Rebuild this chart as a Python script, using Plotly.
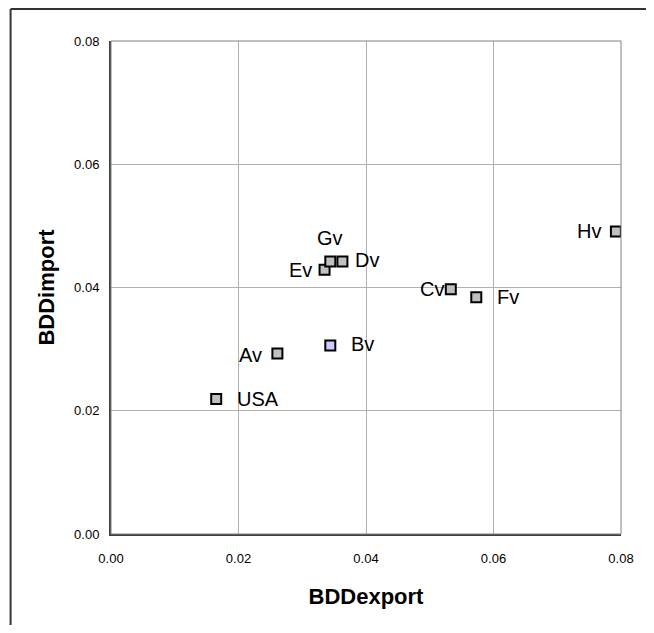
import plotly.graph_objects as go

names = ["USA", "Av", "Bv", "Ev", "Gv", "Dv", "Cv", "Fv", "Hv"]
bdd_export = [0.0165, 0.0261, 0.0344, 0.0335, 0.0344, 0.0363, 0.0533, 0.0573, 0.0792]
bdd_import = [0.0219, 0.0293, 0.0306, 0.0429, 0.0442, 0.0442, 0.0397, 0.0384, 0.0491]
tick_vals = [0.00, 0.02, 0.04, 0.06, 0.08]
tick_text = ["0.00", "0.02", "0.04", "0.06", "0.08"]

# label placement (style): anchor, xshift, yshift
label_pos = {
    "USA": ("left", 19, 0),
    "Av": ("right", -13, -2),
    "Bv": ("left", 19, 1),
    "Ev": ("right", -11, 0),
    "Gv": ("center", 0, 24),
    "Dv": ("left", 11, 2),
    "Cv": ("right", -5, 0),
    "Fv": ("left", 19, 0),
    "Hv": ("right", -13, 0),
}
fills = ["#c0c0c0" if n != "Bv" else "#ccccff" for n in names]

FONT = "Liberation Sans, Arial, sans-serif"

fig = go.Figure()
fig.add_trace(go.Scatter(
    x=bdd_export, y=bdd_import, mode="markers",
    marker=dict(symbol="square", size=10, color=fills,
                line=dict(color="#000000", width=2)),
    hoverinfo="text", text=names, showlegend=False,
))

for n, x, y in zip(names, bdd_export, bdd_import):
    anc, xs, ys = label_pos[n]
    fig.add_annotation(x=x, y=y, text=n, showarrow=False, xanchor=anc,
                       yanchor="middle", xshift=xs, yshift=ys,
                       font=dict(family=FONT, size=20, color="#000000"))

# plot area border (top/right lighter)
fig.add_shape(type="rect", xref="paper", yref="paper", x0=0, y0=0, x1=1, y1=1,
              line=dict(color="#808080", width=1), layer="above")
# outer chart frame: only left and top edges are visible
fig.add_shape(type="line", xref="paper", yref="paper", x0=-0.1969, y0=-0.5,
              x1=-0.1969, y1=1.0649, line=dict(color="#333333", width=2))
fig.add_shape(type="line", xref="paper", yref="paper", x0=-0.1969, y0=1.0649,
              x1=1.3, y1=1.0649, line=dict(color="#333333", width=2))

fig.update_xaxes(range=[0, 0.08], tickvals=tick_vals, ticktext=tick_text,
                 showgrid=True, gridcolor="#b0b0b0", gridwidth=1,
                 zeroline=False, showline=True, linecolor="#404040", linewidth=2,
                 ticks="outside", ticklen=11, tickcolor="rgba(0,0,0,0)",
                 tickfont=dict(family=FONT, size=13, color="#000000"),
                 title=dict(text="<b>BDDexport</b>", standoff=24,
                            font=dict(family=FONT, size=22, color="#000000")))
fig.update_yaxes(range=[0, 0.08], tickvals=tick_vals, ticktext=tick_text,
                 showgrid=True, gridcolor="#b0b0b0", gridwidth=1,
                 zeroline=False, showline=True, linecolor="#404040", linewidth=2,
                 ticks="outside", ticklen=7, tickcolor="rgba(0,0,0,0)",
                 tickfont=dict(family=FONT, size=13, color="#000000"),
                 title=dict(text="<b>BDDimport</b>", standoff=13,
                            font=dict(family=FONT, size=22, color="#000000")))

fig.update_layout(
    width=638, height=617,
    margin=dict(l=103, r=17, t=33, b=91),
    paper_bgcolor="#ffffff", plot_bgcolor="#ffffff",
    font=dict(family=FONT),
)
fig.write_html("out.html")
